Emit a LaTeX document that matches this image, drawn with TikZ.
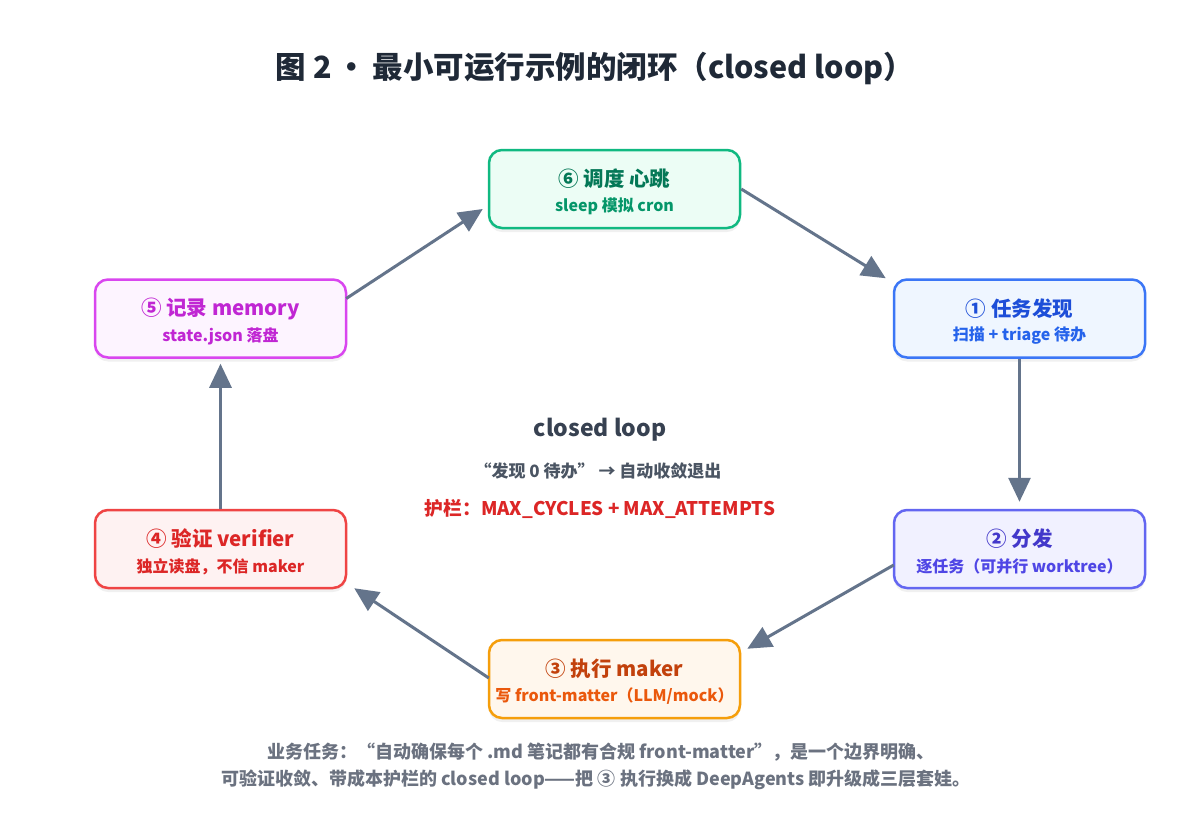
\documentclass[tikz,border=0pt]{standalone}
\usepackage{fontspec}
\setmainfont{Noto Sans CJK SC}
\usetikzlibrary{arrows.meta,calc,shadows}
\definecolor{edge}{HTML}{64748B}
\definecolor{titlec}{HTML}{1F2937}
\definecolor{midc}{HTML}{374151}
\definecolor{midc2}{HTML}{4B5563}
\definecolor{redc}{HTML}{DC2626}
\definecolor{footc}{HTML}{6B7280}
% node colours
\definecolor{gB}{HTML}{10B981}\definecolor{gF}{HTML}{ECFDF5}\definecolor{gT}{HTML}{047857}\definecolor{gS}{HTML}{059669}
\definecolor{bB}{HTML}{3B76F6}\definecolor{bF}{HTML}{EFF6FF}\definecolor{bT}{HTML}{1D4ED8}\definecolor{bS}{HTML}{2563EB}
\definecolor{iB}{HTML}{6366F1}\definecolor{iF}{HTML}{F1F1FF}\definecolor{iT}{HTML}{4338CA}\definecolor{iS}{HTML}{4F46E5}
\definecolor{oB}{HTML}{F59E0B}\definecolor{oF}{HTML}{FFF7ED}\definecolor{oT}{HTML}{C2410C}\definecolor{oS}{HTML}{EA580C}
\definecolor{rB}{HTML}{EF4444}\definecolor{rF}{HTML}{FEF2F2}\definecolor{rT}{HTML}{DC2626}\definecolor{rS}{HTML}{DC2626}
\definecolor{mB}{HTML}{D946EF}\definecolor{mF}{HTML}{FDF4FF}\definecolor{mT}{HTML}{C026D3}\definecolor{mS}{HTML}{C026D3}
\tikzset{
  stagebox/.style={draw, line width=2.5pt, rounded corners=13pt, minimum width=251pt, minimum height=78pt, inner sep=0pt,
    drop shadow={shadow xshift=0pt, shadow yshift=-4pt, opacity=0.06, fill=black}},
  stagettl/.style={font=\fontsize{20.5}{24}\selectfont\bfseries, inner sep=0pt},
  stagesub/.style={font=\fontsize{16}{19}\selectfont\bfseries, inner sep=0pt},
  flow/.style={draw=edge, line width=3pt, -{Triangle[length=24pt,width=22pt]}},
  foot/.style={font=\fontsize{18}{21}\selectfont\bfseries, text=footc},
}
\begin{document}
\begin{tikzpicture}[x=1pt,y=-1pt]
\useasboundingbox[fill=white] (0,0) rectangle (1200,820);
% title
\node[font=\fontsize{30.5}{36}\selectfont\bfseries, text=titlec] (title) at (595,68) {图 2\,•\,最小可运行示例的闭环（closed loop）};
% stages
\node[stagebox, draw=gB, fill=gF] (n6) at (614.5,189) {};
\node[stagettl, text=gT] (t6) at ($(n6.center)+(0,-10)$) {⑥ 调度 心跳};
\node[stagesub, text=gS] (s6) at ($(n6.center)+(0,17.5)$) {sleep 模拟 cron};

\node[stagebox, draw=bB, fill=bF] (n1) at (1019.5,318.5) {};
\node[stagettl, text=bT] (t1) at ($(n1.center)+(0,-10)$) {① 任务发现};
\node[stagesub, text=bS] (s1) at ($(n1.center)+(0,17.5)$) {扫描 + triage 待办};

\node[stagebox, draw=iB, fill=iF] (n2) at (1019.5,549) {};
\node[stagettl, text=iT] (t2) at ($(n2.center)+(0,-10)$) {② 分发};
\node[stagesub, text=iS] (s2) at ($(n2.center)+(0,17.5)$) {逐任务（可并行 worktree）};

\node[stagebox, draw=oB, fill=oF] (n3) at (614.5,679) {};
\node[stagettl, text=oT] (t3) at ($(n3.center)+(0,-10)$) {③ 执行 maker};
\node[stagesub, text=oS] (s3) at ($(n3.center)+(0,17.5)$) {写 front-matter（LLM/mock）};

\node[stagebox, draw=rB, fill=rF] (n4) at (220.5,549) {};
\node[stagettl, text=rT] (t4) at ($(n4.center)+(0,-10)$) {④ 验证 verifier};
\node[stagesub, text=rS] (s4) at ($(n4.center)+(0,17.5)$) {独立读盘，不信 maker};

\node[stagebox, draw=mB, fill=mF] (n5) at (220.5,318.5) {};
\node[stagettl, text=mT] (t5) at ($(n5.center)+(0,-10)$) {⑤ 记录 memory};
\node[stagesub, text=mS] (s5) at ($(n5.center)+(0,17.5)$) {state.json 落盘};
% connectors
\draw[flow] (n6.east) -- ($(n1.north west)+(-7,0)$);
\draw[flow] (n1.south) -- ($(n2.north)+(0,-7)$);
\draw[flow] ($(n2.west)+(1,16)$) -- ($(n3.north east)+(6,10)$);
\draw[flow] ($(n3.west)+(1,-1)$) -- ($(n4.south east)+(7,-1)$);
\draw[flow] (n4.north) -- ($(n5.south)+(0,5)$);
\draw[flow] ($(n5.east)+(-1,-20)$) -- ($(n6.west)+(-5,20)$);
% centre
\node[font=\fontsize{23}{27}\selectfont\bfseries, text=midc] (c1) at (600,430) {closed loop};
\node[font=\fontsize{17}{20}\selectfont\bfseries, text=midc2] (c2) at (598,471) {“发现 0 待办” → 自动收敛退出};
\node[font=\fontsize{18.8}{22}\selectfont\bfseries, text=redc] (c3) at (600,509) {护栏：MAX\_CYCLES + MAX\_ATTEMPTS};
% footer
\node[foot] (f1) at (601,752) {业务任务：“自动确保每个 .md 笔记都有合规 front-matter”，是一个边界明确、};
\node[foot] (f2) at (596,780) {可验证收敛、带成本护栏的 closed loop——把 ③ 执行换成 DeepAgents 即升级成三层套娃。};
\end{tikzpicture}
\end{document}
